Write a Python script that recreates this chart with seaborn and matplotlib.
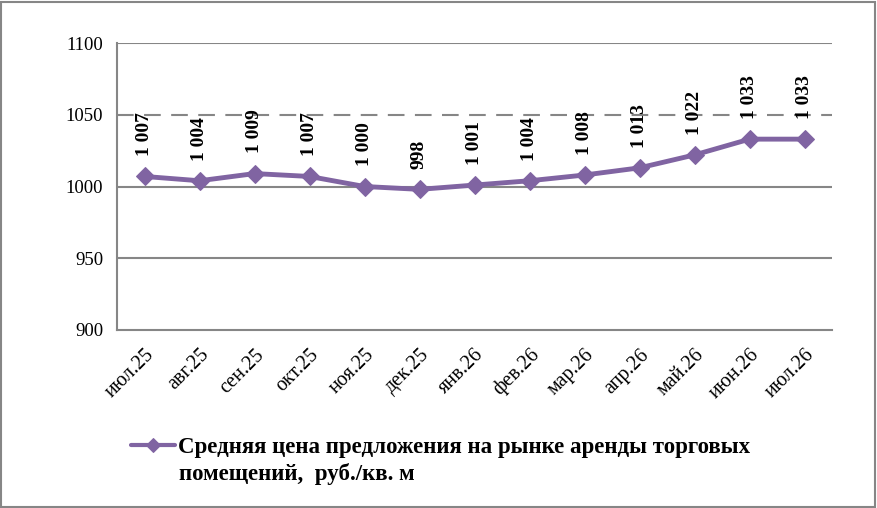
import matplotlib
matplotlib.use('Agg')
import matplotlib.pyplot as plt
import numpy as np
import pandas as pd
import seaborn as sns
from matplotlib.patches import Rectangle

months = ['июл.25', 'авг.25', 'сен.25', 'окт.25', 'ноя.25', 'дек.25', 'янв.26',
          'фев.26', 'мар.26', 'апр.26', 'май.26', 'июн.26', 'июл.26']
prices = [1007, 1004, 1009, 1007, 1000, 998, 1001, 1004, 1008, 1013, 1022, 1033, 1033]
series_name = ['Средняя цена предложения на рынке аренды торговых',
               'помещений,  руб./кв. м']

df = pd.DataFrame({'month': months, 'price': prices})

sns.set_style('white')
plt.rcParams['font.family'] = ['Liberation Serif', 'DejaVu Serif']
plt.rcParams['text.color'] = 'black'
plt.rcParams['xtick.color'] = 'black'
plt.rcParams['ytick.color'] = 'black'

purple = '#8064A2'
gray = '#868686'

fig = plt.figure(figsize=(8.77, 5.08), dpi=100)
ax = fig.add_axes([117 / 877, 1 - 330 / 508, (832 - 117) / 877, (330 - 43) / 508])

sns.lineplot(data=df, x='month', y='price', ax=ax, color=purple, linewidth=3.5,
             marker='D', markersize=9, markeredgecolor=purple, label=series_name[0],
             sort=False)

ax.set_xlim(-0.5, len(months) - 0.5)
ax.set_ylim(900, 1100)
ax.set_yticks([900, 950, 1000, 1050, 1100])
for y in [950, 1000, 1100]:
    ax.axhline(y, color=gray, linewidth=1.5, zorder=0)
ax.axhline(1050, color=gray, linewidth=1.5, dashes=(8, 5), zorder=0)

ax.set_xticks(range(len(months)))
ax.set_xticklabels(months, rotation=45, ha='right', rotation_mode='anchor', fontsize=14.5)
ax.set_xticks(np.arange(-0.5, len(months), 1), minor=True)
ax.tick_params(axis='x', which='major', length=0, pad=11)
ax.tick_params(axis='x', which='minor', length=5, color=gray, width=1.5)
ax.tick_params(axis='y', length=5, color=gray, width=1.5, labelsize=13.5, pad=5,
               labelcolor='black')

for side in ['top', 'right']:
    ax.spines[side].set_visible(False)
for side in ['left', 'bottom']:
    ax.spines[side].set_color(gray)
    ax.spines[side].set_linewidth(1.5)

ax.set_xlabel('')
ax.set_ylabel('')

for i, v in enumerate(prices):
    label = f'{v:,}'.replace(',', ' ')
    ax.annotate(label, (i, v), xytext=(0, 14.5), textcoords='offset points',
                rotation=90, ha='center', va='bottom', fontsize=14, fontweight='bold')

ax.get_legend().remove()
handles, labels = ax.get_legend_handles_labels()
leg = fig.legend(handles, labels, loc='upper left', bbox_to_anchor=(122 / 877, 1 - 428 / 508),
                 frameon=False, prop={'size': 16.5, 'weight': 'bold'}, handlelength=1.9,
                 handletextpad=0.15, borderaxespad=0, borderpad=0.4)
for h in leg.legend_handles:
    h.set_markersize(7)
    h.set_linewidth(3)
fig.text(179 / 877, 1 - 474 / 508, series_name[1], fontsize=16.5, fontweight='bold',
         ha='left', va='center')

fig.patches.append(Rectangle((0.001, 0.001), 0.997, 0.996, transform=fig.transFigure,
                             fill=False, edgecolor=gray, linewidth=1.5))

fig.savefig('out.png', dpi=100)
